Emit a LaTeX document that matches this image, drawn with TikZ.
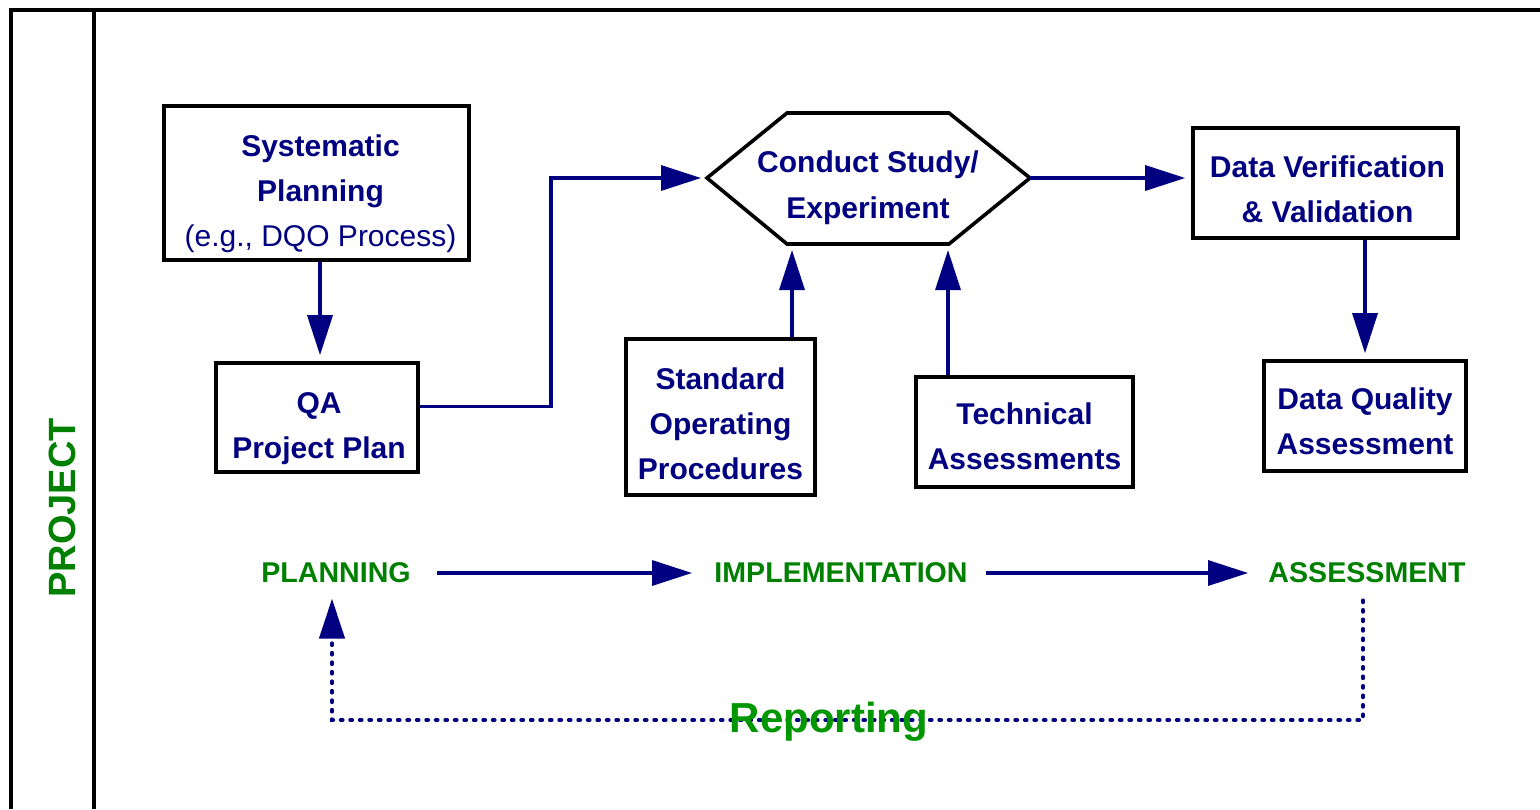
\documentclass[tikz,border=0pt]{standalone}
\usepackage{fontspec}
\setmainfont{Liberation Sans}
\usetikzlibrary{arrows.meta}

\definecolor{txtnavy}{RGB}{0,0,128}
\definecolor{phasegreen}{RGB}{0,128,0}
\definecolor{rptgreen}{RGB}{0,150,0}

\tikzset{
  frame/.style={line width=2pt, black},
  box/.style={draw, line width=1.8pt, inner sep=0pt},
  boxtext/.style={inner sep=0pt, align=center, text=txtnavy,
    font=\fontsize{15}{22.5}\selectfont\bfseries},
  flow/.style={draw=txtnavy, line width=1.7pt, -{Triangle[length=20pt,width=12.5pt]}, shorten >=3pt},
  phase/.style={inner sep=0pt, text=phasegreen, font=\fontsize{14.3}{16}\selectfont\bfseries},
  report/.style={draw=txtnavy, line width=2.1pt, line cap=round, dash pattern=on 0.8pt off 3.95pt}
}

\begin{document}
\begin{tikzpicture}[x=0.5pt, y=-0.5pt]
  \useasboundingbox (0,0) rectangle (1540,809);

  % Frame
  \draw[frame] (11,809) -- (11,10) -- (1540,10);
  \draw[frame] (94,10) -- (94,809);
  \node[rotate=90, inner sep=0pt, text=phasegreen, font=\fontsize{19}{21}\selectfont\bfseries] (proj) at (62,508) {PROJECT};

  % Boxes
  \node[box, minimum width=152.5pt, minimum height=77pt,
    label={[boxtext, xshift=2pt, yshift=-5.5pt]center:{Systematic\\Planning\\{\mdseries (e.g., DQO Process)}}}] (plan) at (316.5,183) {};
  \node[box, minimum width=101pt, minimum height=54.5pt,
    label={[boxtext, xshift=1pt, yshift=-5.5pt]center:{QA\\Project Plan}}] (qapp) at (317,417.5) {};
  \node[box, minimum width=94.5pt, minimum height=78pt,
    label={[boxtext, yshift=-3.5pt]center:{Standard\\Operating\\Procedures}}] (sop) at (720.5,417) {};
  \node[box, minimum width=108.5pt, minimum height=55pt,
    label={[boxtext, yshift=-2pt]center:{Technical\\Assessments}}] (tech) at (1024.5,432) {};
  \node[box, minimum width=132.5pt, minimum height=55pt,
    label={[boxtext, xshift=1pt, yshift=-3pt]center:{Data Verification\\\& Validation}}] (verif) at (1325.5,183) {};
  \node[box, minimum width=101pt, minimum height=55pt,
    label={[boxtext, yshift=-2.5pt]center:{Data Quality\\Assessment}}] (dqa) at (1365,416) {};

  % Hexagon
  \coordinate (hexW) at (707,178);
  \coordinate (hexE) at (1030,178);
  \coordinate (hexS1) at (792,244);
  \coordinate (hexS2) at (948,244);
  \draw[line width=1.8pt, line join=miter] (hexW) -- (787,113) -- (949,113) -- (hexE) -- (949,244) -- (787,244) -- cycle;
  \node[boxtext, font=\fontsize{15}{23}\selectfont\bfseries] (study) at (868,188) {Conduct Study/\\Experiment};

  \draw[flow] (plan.south -| 320,0) -- (qapp.north -| 320,0);
  \draw[flow] ([yshift=5.5pt]qapp.east) -- ++(131,0) |- (hexW);
  \draw[flow] (sop.north -| hexS1) -- (hexS1);
  \draw[flow] (tech.north -| hexS2) -- (hexS2);
  \draw[flow] (hexE) -- (hexE -| verif.west);
  \draw[flow] (verif.south -| dqa.north) -- (dqa.north);

  % Phases
  \node[phase] (planlbl) at (336,573) {PLANNING};
  \node[phase] (impl) at (841,573) {IMPLEMENTATION};
  \node[phase] (assess) at (1367,573) {ASSESSMENT};
  \draw[flow, shorten <=13pt, shorten >=11pt] (planlbl) -- (impl);
  \draw[flow, shorten <=9pt, shorten >=10pt] (impl) -- (assess);

  % Reporting loop
  \coordinate (rptR) at (1363,720);
  \coordinate (rptL) at (332,720);
  \draw[report, -{Triangle[length=20pt,width=12.5pt]}, shorten <=8.5pt, shorten >=7.5pt]
    (rptR |- assess.south) -- (rptR) -- (rptL) -- (rptL |- planlbl.south);
  \node[anchor=base, inner sep=0pt, text=rptgreen, font=\fontsize{21}{24}\selectfont\bfseries] (rpt) at (829,732) {Reporting};
\end{tikzpicture}
\end{document}
